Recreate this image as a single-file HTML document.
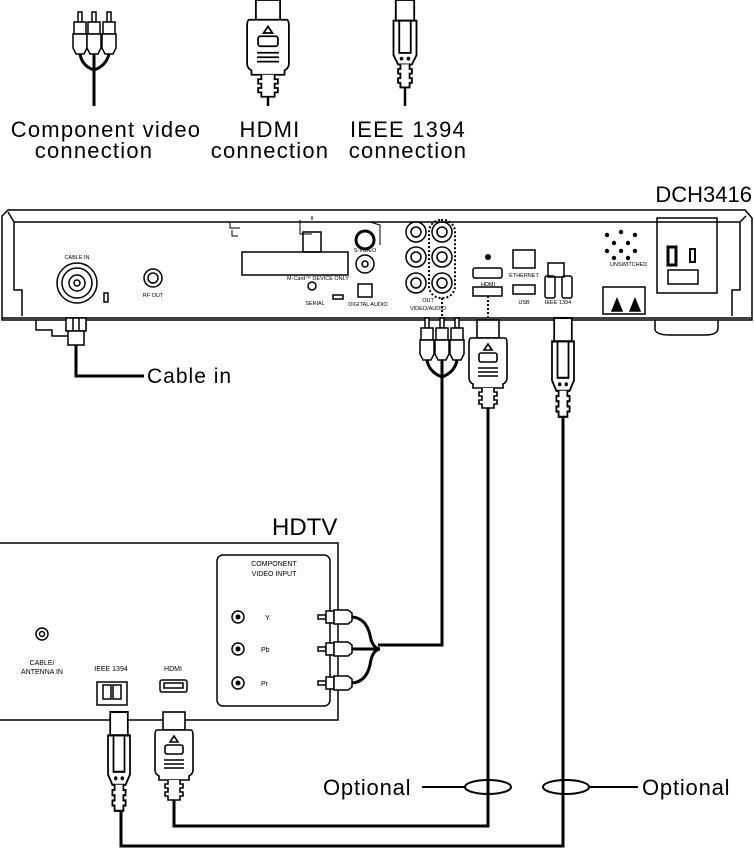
<!DOCTYPE html>
<html><head><meta charset="utf-8"><style>
html,body{margin:0;padding:0;background:#fff;}
svg{display:block;font-family:"Liberation Sans",sans-serif;}
</style></head><body>
<svg width="754" height="851" viewBox="0 0 754 851" xmlns="http://www.w3.org/2000/svg">
<defs>
<g id="hdmi" fill="#fff" stroke="#000" stroke-width="1.6">
  <rect x="-11" y="0" width="22" height="18"/>
  <path d="M-17 18 H17 Q19 18 19 24 V58 Q19 62 15 64 V68 H-15 V64 Q-19 62 -19 58 V24 Q-19 18 -17 18Z"/>
  <path d="M-4 30 L0 24 L4 30Z"/>
  <rect x="-9" y="33" width="18" height="9" rx="2"/>
  <line x1="-10" y1="48" x2="10" y2="48"/><line x1="-10" y1="52" x2="10" y2="52"/><line x1="-10" y1="56" x2="10" y2="56"/>
  <path d="M-6 68 V72 H-9 V76 H-6 V80 H-9 V84 H-6 V88 H6 V84 H9 V80 H6 V76 H9 V72 H6 V68"/>
</g>
<g id="ieee" fill="#fff" stroke="#000" stroke-width="1.6">
  <rect x="-8" y="0" width="16" height="18"/>
  <path d="M-10 18 H10 V48 L6 56 H-6 L-10 48Z"/>
  <rect x="-5" y="18" width="10" height="28"/>
  <circle cx="-3" cy="51" r="0.8" fill="#000"/><circle cx="3" cy="51" r="0.8" fill="#000"/>
  <path d="M-4 56 V60 H-6 V64 H-4 V68 H-6 V72 H-4 V76 H4 V72 H6 V68 H4 V64 H6 V60 H4 V56"/>
</g>
<g id="rca" fill="#fff" stroke="#000" stroke-width="1.5">
  <path d="M-2 0 H2 V10 H-2Z"/>
  <rect x="-6" y="10" width="12" height="12"/>
  <path d="M-7 22 H7 V36 L4 42 H-4 L-7 36Z"/>
</g>
<g id="rcah" fill="#fff" stroke="#000" stroke-width="1.5">
  <path d="M0 -2 H-8 V2 H0Z"/>
  <rect x="0" y="-6" width="8" height="12"/>
  <path d="M8 -7 H22 L26 -4 V4 L22 7 H8Z"/>
</g>
</defs>

<!-- top icons -->
<use href="#rca" x="80" y="12"/><use href="#rca" x="94" y="12"/><use href="#rca" x="109" y="12"/>
<path d="M80 54 Q82 66 94 70 Q106 66 109 54 M94 54 V106" fill="none" stroke="#000" stroke-width="3"/>
<g transform="translate(268,0) scale(1.1)"><use href="#hdmi"/></g>
<line x1="268" y1="96" x2="268" y2="106" stroke="#000" stroke-width="2.5"/>
<g transform="translate(405,0) scale(1.15)"><use href="#ieee"/></g>
<line x1="405" y1="87" x2="405" y2="106" stroke="#000" stroke-width="2.5"/>
<g font-size="22" text-anchor="middle" fill="#000" letter-spacing="1.2">
<text x="106" y="137">Component video</text><text x="94" y="158">connection</text>
<text x="270" y="137">HDMI</text><text x="270" y="158">connection</text>
<text x="408" y="137">IEEE 1394</text><text x="408" y="158">connection</text>
</g>

<!-- device -->
<text x="752" y="202" font-size="22" text-anchor="end">DCH3416</text>
<g fill="none" stroke="#000" stroke-width="1.5">
<path d="M8 210 H745 L752 218 V320 H2 V216 Z"/>
<path d="M14 222 H740 L746 216 M14 222 L8 212 M14 222 V290 H22 V316 M740 222 V290 H732 V316"/>
<path d="M2 318 H752"/>
<path d="M36 320 V330 H52 V336 H68 M86 320 V330 M655 320 V330 Q657 335 670 335 H705 Q718 335 718 328 V320"/>
<path d="M230 222 V228 H240 M232 230 V236 H238 M300 220 V234 H312 M312 220 V216 M370 222 L380 225 V245" stroke-width="1"/>
<circle cx="77" cy="283" r="20"/><circle cx="77" cy="283" r="15"/><circle cx="77" cy="283" r="8"/><circle cx="77" cy="283" r="3"/>
<rect x="104" y="293" width="4" height="9"/>
<circle cx="153" cy="278" r="9"/><circle cx="153" cy="278" r="5"/>
<rect x="242" y="252" width="106" height="23"/><rect x="303" y="232" width="18" height="20"/>
<circle cx="365" cy="240" r="9" stroke-width="3"/><circle cx="365" cy="264" r="9"/><circle cx="365" cy="264" r="3"/>
<rect x="358" y="284" width="14" height="13"/><circle cx="312" cy="286" r="4"/>
<rect x="333" y="295" width="10" height="4"/>
<circle cx="416" cy="232" r="10"/><circle cx="416" cy="232" r="5"/>
<circle cx="416" cy="257" r="10"/><circle cx="416" cy="257" r="5"/>
<circle cx="416" cy="283" r="10"/><circle cx="416" cy="283" r="5"/>
<circle cx="442" cy="232" r="10"/><circle cx="442" cy="232" r="5"/>
<circle cx="442" cy="257" r="10"/><circle cx="442" cy="257" r="5"/>
<circle cx="442" cy="283" r="10"/><circle cx="442" cy="283" r="5"/>
<rect x="429" y="220" width="26" height="78" rx="12" stroke-dasharray="2 2" stroke-width="2"/>
<rect x="473" y="268" width="29" height="10" rx="2"/><rect x="473" y="287" width="29" height="9"/>
<rect x="513" y="250" width="22" height="18"/><rect x="513" y="285" width="22" height="9"/>
<rect x="545" y="276" width="10" height="22" rx="2"/><rect x="562" y="276" width="10" height="22" rx="2"/>
<rect x="548" y="263" width="16" height="14"/>
<rect x="657" y="218" width="60" height="75"/>
<rect x="668" y="247" width="8" height="18" stroke-width="3"/><rect x="690" y="249" width="5" height="13" stroke-width="2"/>
<rect x="668" y="270" width="30" height="14"/>
<rect x="603" y="287" width="42" height="27"/>
<path d="M612 311 L617 299 L622 311Z M630 311 L635 299 L640 311Z" fill="#000"/>
</g>
<g fill="#000">
<circle cx="607" cy="235" r="2.2"/><circle cx="621" cy="232" r="2.2"/><circle cx="635" cy="235" r="2.2"/>
<circle cx="614" cy="243" r="2.2"/><circle cx="628" cy="243" r="2.2"/><circle cx="607" cy="251" r="2.2"/>
<circle cx="621" cy="251" r="2.2"/><circle cx="635" cy="251" r="2.2"/><circle cx="614" cy="258" r="2.2"/><circle cx="628" cy="258" r="2.2"/>
<circle cx="488" cy="257" r="3"/>
</g>
<g font-size="5.5" fill="#000" text-anchor="middle">
<text x="77" y="259">CABLE IN</text><text x="153" y="297">RF OUT</text>
<text x="318" y="280">M-Card™ DEVICE ONLY</text><text x="365" y="252">S-VIDEO</text>
<text x="315" y="305">SERIAL</text><text x="368" y="306">DIGITAL AUDIO</text>
<text x="428" y="302">OUT</text><text x="428" y="310">VIDEO/AUDIO</text>
<text x="488" y="286">HDMI</text><text x="524" y="277">ETHERNET</text><text x="524" y="304">USB</text>
<text x="558" y="304">IEEE 1394</text><text x="610" y="266" text-anchor="start">UNSWITCHED</text>
</g>
<line x1="442" y1="298" x2="442" y2="318" stroke="#000" stroke-width="2" stroke-dasharray="2 2"/>
<line x1="488" y1="296" x2="488" y2="318" stroke="#000" stroke-width="2" stroke-dasharray="2 2"/>

<!-- cable in -->
<g fill="#fff" stroke="#000" stroke-width="1.5">
<rect x="66" y="318" width="20" height="13"/><line x1="73" y1="318" x2="73" y2="331"/><line x1="79" y1="318" x2="79" y2="331"/>
<rect x="68" y="331" width="16" height="14"/>
</g>
<path d="M76 345 V376 H144" fill="none" stroke="#000" stroke-width="3"/>
<text x="147" y="383" font-size="21" letter-spacing="1">Cable in</text>

<!-- device plugs -->
<use href="#rca" x="427" y="318"/><use href="#rca" x="442" y="318"/><use href="#rca" x="457" y="318"/>
<path d="M427 360 Q429 372 442 377 Q455 372 457 360 M442 360 V645 H378" fill="none" stroke="#000" stroke-width="3"/>
<use href="#hdmi" x="488" y="320"/>
<g transform="translate(563,318) scale(1.1,1.3)"><use href="#ieee"/></g>
<path d="M488 408 V826 H174 V800" fill="none" stroke="#000" stroke-width="3"/>
<path d="M563 416 V846 H121 V808" fill="none" stroke="#000" stroke-width="3"/>

<!-- HDTV -->
<text x="272" y="535" font-size="24">HDTV</text>
<path d="M0 543 H338 V720 H0" fill="none" stroke="#000" stroke-width="1.5"/>
<rect x="217" y="555" width="113" height="151" rx="6" fill="none" stroke="#000" stroke-width="1.5"/>
<g font-size="7" text-anchor="middle" fill="#000">
<text x="274" y="566">COMPONENT</text><text x="274" y="576">VIDEO INPUT</text>
<text x="42" y="665">CABLE/</text><text x="42" y="674">ANTENNA IN</text>
<text x="111" y="671">IEEE 1394</text><text x="173" y="671">HDMI</text>
<text x="265" y="620" text-anchor="start">Y</text><text x="261" y="652" text-anchor="start">Pb</text><text x="261" y="686" text-anchor="start">Pr</text>
</g>
<g fill="none" stroke="#000" stroke-width="1.5">
<circle cx="238" cy="617" r="6"/><circle cx="238" cy="649" r="6"/><circle cx="238" cy="683" r="6"/>
<circle cx="42" cy="634" r="6"/><circle cx="42" cy="634" r="2.5"/>
<rect x="97" y="682" width="30" height="23"/><rect x="103" y="685" width="8" height="14"/><rect x="113" y="685" width="8" height="14"/>
<rect x="160" y="680" width="27" height="12" rx="2"/><rect x="164" y="683" width="19" height="5"/>
</g>
<g fill="#000"><circle cx="238" cy="617" r="2.5"/><circle cx="238" cy="649" r="2.5"/><circle cx="238" cy="683" r="2.5"/></g>
<use href="#rcah" x="326" y="617"/><use href="#rcah" x="326" y="649"/><use href="#rcah" x="326" y="683"/>
<path d="M352 617 Q366 618 370 635 Q372 648 380 649 M352 683 Q366 682 370 665 Q372 650 380 649 M352 649 H380" fill="none" stroke="#000" stroke-width="3"/>
<g transform="translate(119,712) scale(1.1,1.3)"><use href="#ieee"/></g>
<use href="#hdmi" x="174" y="712"/>

<!-- optional -->
<g fill="#fff" stroke="#000" stroke-width="2">
<ellipse cx="488" cy="787" rx="23" ry="7"/><ellipse cx="566" cy="787" rx="23" ry="7"/>
</g>
<line x1="488" y1="776" x2="488" y2="798" stroke="#000" stroke-width="3"/>
<line x1="563" y1="776" x2="563" y2="798" stroke="#000" stroke-width="3"/>
<line x1="422" y1="787" x2="465" y2="787" stroke="#000" stroke-width="2"/>
<line x1="589" y1="787" x2="638" y2="787" stroke="#000" stroke-width="2"/>
<text x="323" y="795" font-size="22" letter-spacing="0.8">Optional</text>
<text x="642" y="795" font-size="22" letter-spacing="0.8">Optional</text>
</svg>
</body></html>
